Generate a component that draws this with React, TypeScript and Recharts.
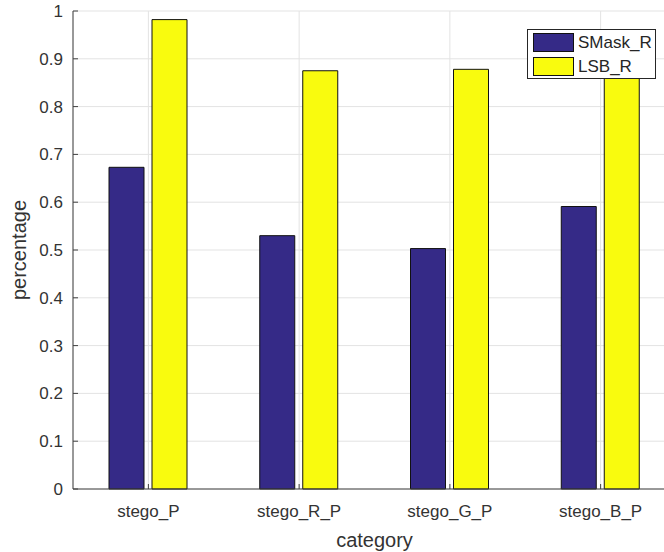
import React from 'react';
import { BarChart, Bar, XAxis, YAxis, CartesianGrid, Legend, Label } from 'recharts';

const categories = ['stego_P', 'stego_R_P', 'stego_G_P', 'stego_B_P'];
const smaskR = [0.673, 0.53, 0.503, 0.591];
const lsbR = [0.982, 0.875, 0.878, 0.872];
const yTicks = [0, 0.1, 0.2, 0.3, 0.4, 0.5, 0.6, 0.7, 0.8, 0.9, 1];
const seriesNames = ['SMask_R', 'LSB_R'];
const seriesColors = ['#352a87', '#f9fb0e'];

const data = categories.map((c, i) => ({
  category: c,
  [seriesNames[0]]: smaskR[i],
  [seriesNames[1]]: lsbR[i],
}));

const FONT = "'Liberation Sans', Arial, Helvetica, sans-serif";
const AXIS = '#404040';
const TEXT = '#333333';

const renderLegend = (props: any) => {
  const payload = ([...(props.payload || [])] as any[]).sort(
    (a, b) => seriesNames.indexOf(String(a.value)) - seriesNames.indexOf(String(b.value))
  );
  return (
    <div
      style={{
        boxSizing: 'border-box',
        width: 129,
        height: 50,
        border: '1px solid #262626',
        background: '#fff',
        padding: '3px 0 0 5px',
        fontFamily: FONT,
        fontSize: 17,
        color: '#262626',
      }}
    >
      {payload.map((entry: any) => (
        <div
          key={entry.value}
          style={{ display: 'flex', alignItems: 'center', height: 19, marginBottom: 5 }}
        >
          <span
            style={{
              boxSizing: 'border-box',
              display: 'inline-block',
              width: 41,
              height: 19,
              background: entry.color,
              border: '1px solid #111',
              marginRight: 4,
            }}
          />
          <span style={{ lineHeight: '19px' }}>{entry.value}</span>
        </div>
      ))}
    </div>
  );
};

export default function App() {
  return (
    <div
      style={{
        position: 'absolute',
        left: 0,
        top: 0,
        width: 664,
        height: 552,
        overflow: 'hidden',
        background: '#fff',
      }}
    >
      <BarChart
        width={700}
        height={552}
        data={data}
        margin={{ top: 11, right: 24, bottom: 0, left: 10 }}
        barGap={8}
        barSize={35}
      >
        <CartesianGrid stroke="#e3e3e3" />
        <Bar
          dataKey={seriesNames[0]}
          fill={seriesColors[0]}
          stroke="#111"
          strokeWidth={1}
          isAnimationActive={false}
        />
        <Bar
          dataKey={seriesNames[1]}
          fill={seriesColors[1]}
          stroke="#111"
          strokeWidth={1}
          isAnimationActive={false}
        />
        <XAxis
          dataKey="category"
          height={63}
          tickSize={-5}
          tickMargin={21}
          interval={0}
          axisLine={{ stroke: AXIS }}
          tickLine={{ stroke: AXIS }}
          tick={{ fill: TEXT, fontSize: 17, fontFamily: FONT }}
        >
          <Label
            value="category"
            position="insideBottom"
            offset={5}
            style={{ fill: TEXT, fontSize: 20, fontFamily: FONT }}
          />
        </XAxis>
        <XAxis
          xAxisId="top"
          orientation="top"
          dataKey="category"
          height={0}
          tickSize={-5}
          interval={0}
          tick={false}
          axisLine={{ stroke: AXIS }}
          tickLine={{ stroke: AXIS }}
        />
        <YAxis
          width={63}
          domain={[0, 1]}
          ticks={yTicks}
          interval={0}
          tickSize={-5}
          tickMargin={15}
          tickFormatter={(v: number) => String(v)}
          axisLine={{ stroke: AXIS }}
          tickLine={{ stroke: AXIS }}
          tick={{ fill: TEXT, fontSize: 17, fontFamily: FONT }}
        >
          <Label
            value="percentage"
            angle={-90}
            position="insideLeft"
            offset={9}
            style={{ fill: TEXT, fontSize: 20, fontFamily: FONT, textAnchor: 'middle' }}
          />
        </YAxis>
        <Legend
          layout="vertical"
          align="center"
          verticalAlign="middle"
          itemSorter={null as any}
          content={renderLegend}
          wrapperStyle={{ position: 'absolute', left: 527, top: 29, width: 129, height: 50 }}
        />
      </BarChart>
    </div>
  );
}
